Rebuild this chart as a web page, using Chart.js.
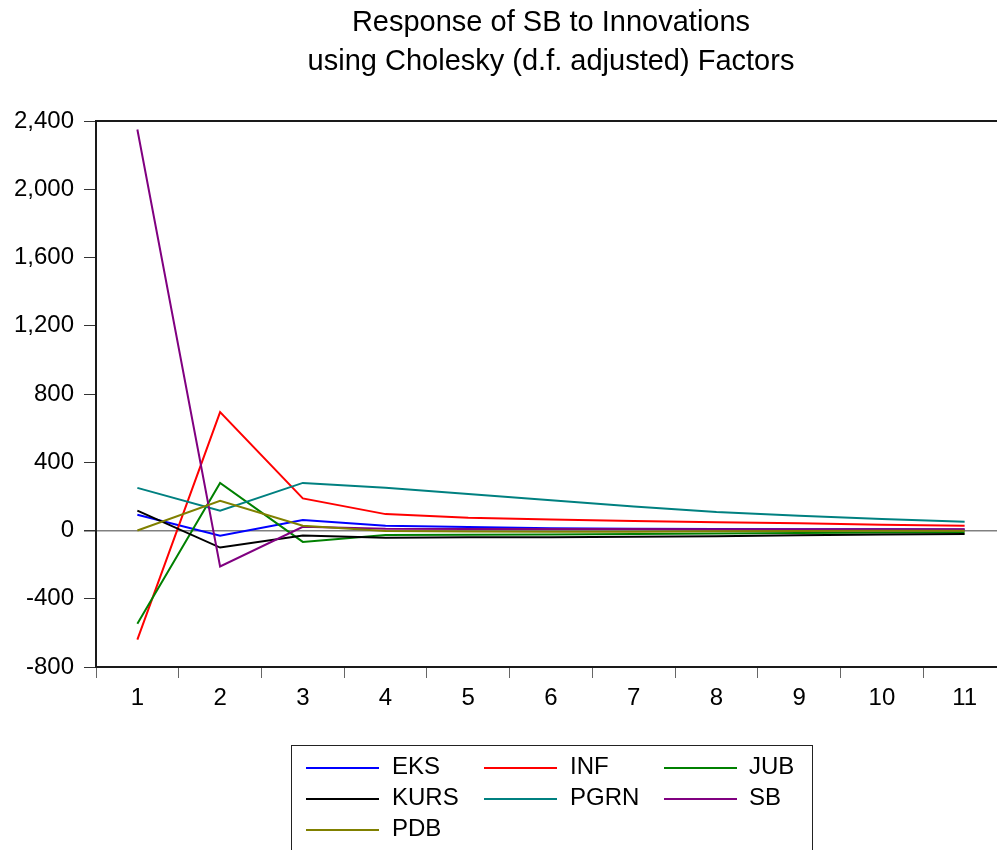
<!DOCTYPE html>
<html>
<head>
<meta charset="utf-8">
<script src="https://cdn.jsdelivr.net/npm/chart.js@4.4.1/dist/chart.umd.min.js"></script>
<style>
  html, body { margin: 0; padding: 0; background: #ffffff; overflow: hidden; }
  #wrap { width: 1016px; height: 850px; }
</style>
</head>
<body>
<div id="wrap"><canvas id="irf" width="1016" height="850"></canvas></div>
<script>
// Impulse responses of SB, periods 1..11
const periods = ['1', '2', '3', '4', '5', '6', '7', '8', '9', '10', '11'];
const yTicks = [-800, -400, 0, 400, 800, 1200, 1600, 2000, 2400];
const titleLines = ['Response of SB to Innovations', 'using Cholesky (d.f. adjusted) Factors'];

const EKS  = [92, -30, 61, 28, 20, 13, 10, 9, 8, 7, 6];
const INF  = [-640, 694, 188, 96, 75, 65, 55, 49, 42, 34, 28];
const JUB  = [-546, 279, -67, -26, -25, -23, -20, -17, -14, -12, -10];
const KURS = [116, -100, -30, -42, -40, -39, -37, -33, -28, -24, -20];
const PGRN = [250, 116, 279, 251, 214, 178, 140, 108, 87, 67, 52];
const SB   = [2350, -211, 22, 10, 9, 9, 9, 8, 8, 7, 7];
const PDB  = [0, 174, 28, -3, -6, -7, -7, -5, -3, -2, -1];

const seriesNames = ['EKS', 'INF', 'JUB', 'KURS', 'PGRN', 'SB', 'PDB'];
const seriesData = [EKS, INF, JUB, KURS, PGRN, SB, PDB];
const seriesColors = ['#0000ff', '#ff0000', '#008000', '#000000', '#008080', '#800080', '#808000'];

const FONT = '"Liberation Sans", Arial, sans-serif';

const datasets = seriesNames.map((name, i) => ({
  label: name,
  data: seriesData[i],
  borderColor: seriesColors[i],
  backgroundColor: seriesColors[i],
  borderWidth: 2,
  pointRadius: 0,
  tension: 0,
  fill: false,
  order: seriesNames.length - i   // later series drawn on top
}));

// Title, frame and boxed legend
const decor = {
  id: 'decor',
  afterDraw(chart) {
    const { ctx, chartArea: a } = chart;
    ctx.save();
    // frame around the plot
    ctx.strokeStyle = '#1a1a1a';
    ctx.lineWidth = 2;
    ctx.beginPath();
    ctx.moveTo(a.left, a.bottom);
    ctx.lineTo(a.left, a.top);
    ctx.lineTo(a.right, a.top);
    ctx.lineTo(a.right, a.bottom);
    ctx.stroke();

    // title
    ctx.fillStyle = '#000';
    ctx.font = '29px ' + FONT;
    ctx.textAlign = 'center';
    ctx.textBaseline = 'alphabetic';
    const cx = (a.left + a.right) / 2;
    ctx.fillText(titleLines[0], cx, 31);
    ctx.fillText(titleLines[1], cx, 70);

    // legend box
    ctx.strokeStyle = '#222';
    ctx.lineWidth = 1;
    ctx.strokeRect(291.5, 745.5, 521, 120);
    const colLine = [306, 484, 664];
    const colText = [392, 570, 749];
    const rowY = [767, 798, 829];
    ctx.font = '24px ' + FONT;
    ctx.textAlign = 'left';
    ctx.textBaseline = 'middle';
    seriesNames.forEach((name, i) => {
      const r = Math.floor(i / 3), c = i % 3;
      ctx.strokeStyle = seriesColors[i];
      ctx.lineWidth = 2;
      ctx.beginPath();
      ctx.moveTo(colLine[c], rowY[r] + 1);
      ctx.lineTo(colLine[c] + 73, rowY[r] + 1);
      ctx.stroke();
      ctx.fillStyle = '#000';
      ctx.fillText(name, colText[c], rowY[r]);
    });
    ctx.restore();
  }
};

new Chart(document.getElementById('irf'), {
  type: 'line',
  data: { labels: periods, datasets },
  options: {
    responsive: false,
    animation: false,
    layout: { padding: { top: 121, right: 10, left: 0, bottom: 0 } },
    plugins: { legend: { display: false }, title: { display: false }, tooltip: { enabled: false } },
    scales: {
      x: {
        offset: true,
        grid: { offset: true, drawOnChartArea: false, tickLength: 11, color: '#666', lineWidth: 1 },
        border: { display: true, color: '#1a1a1a', width: 2 },
        ticks: { color: '#000', font: { family: FONT, size: 24 }, padding: 6, maxRotation: 0, autoSkip: false },
        afterFit(s) { s.height = 183; }
      },
      y: {
        min: -800,
        max: 2400,
        afterBuildTicks(s) { s.ticks = yTicks.map(v => ({ value: v })); },
        grid: {
          drawOnChartArea: true,
          tickLength: 12,
          color: c => (c.tick && c.tick.value === 0 ? '#808080' : 'rgba(0,0,0,0)'),
          lineWidth: c => (c.tick && c.tick.value === 0 ? 1.5 : 1),
          tickColor: '#333'
        },
        border: { display: true, color: '#1a1a1a', width: 2 },
        ticks: {
          color: '#000',
          font: { family: FONT, size: 24 },
          padding: 10,
          callback: v => v.toLocaleString('en-US')
        },
        afterFit(s) { s.width = 96; }
      }
    }
  },
  plugins: [decor]
});
</script>
</body>
</html>
